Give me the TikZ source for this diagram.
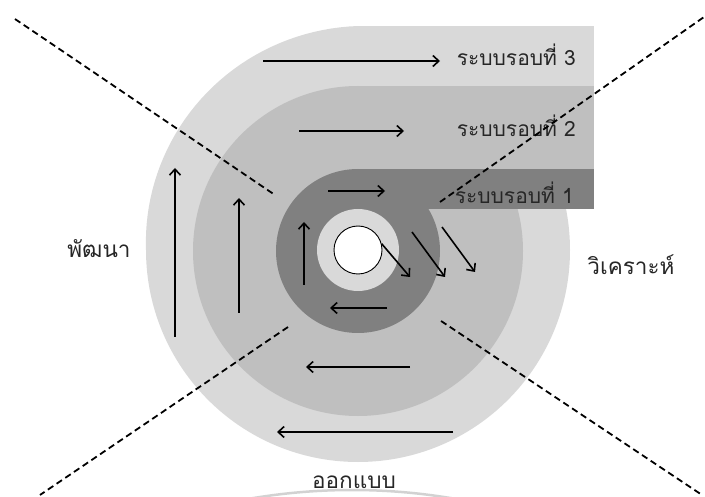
\documentclass[tikz,border=0pt]{standalone}
\usepackage{fontspec}
\newfontfamily\thaifont[Script=Thai]{Loma}
\usepackage{xcolor}
\usepackage{tikz}
\usetikzlibrary{arrows.meta, positioning, calc}

\definecolor{ringout}{HTML}{D9D9D9}
\definecolor{ringmid}{HTML}{BFBFBF}
\definecolor{ringin}{HTML}{808080}
\definecolor{hubring}{HTML}{D9D9D9}

\begin{document}
\begin{tikzpicture}[
  x=1pt, y=-1pt,
  flowarr/.style = {-{Straight Barb[length=6pt,width=11pt]}, line width=1.6pt},
  cutline/.style = {dash pattern=on 6.5pt off 4pt, line width=1.8pt},
  roundlbl/.style= {font=\thaifont\fontsize{21}{24}\selectfont, anchor=east,
                    inner sep=0pt, text=black!85},
  phaselbl/.style= {font=\thaifont\fontsize{22.5}{26}\selectfont, inner sep=0pt,
                    text=black!85},
]
\useasboundingbox (0,0) rectangle (705,497);
\clip (0,0) rectangle (705,497);

%% ── Round 3 (outer spiral + band) ────────────────────────────────
\fill[ringout] (358,250) circle[radius=212pt];
\fill[ringout] (358,250) -- plot[domain=180:90, samples=40]
  ({358+(224-12*(\x-90)/90)*cos(\x)}, {250-(224-12*(\x-90)/90)*sin(\x)})
  -- cycle;
\fill[ringout] (358,26) rectangle (594,86);

%% ── Round 2 ───────────────────────────────────────────────────────
\fill[ringmid] (358,251) circle[radius=165pt];
\fill[ringmid] (358,86) rectangle (594,169);

%% ── Round 1 ───────────────────────────────────────────────────────
\fill[ringin] (358,251) circle[radius=82pt];
\fill[ringin] (358,169) rectangle (594,209);

%% ── Hub ───────────────────────────────────────────────────────────
\fill[hubring] (358,250) circle[radius=41pt];
\node[circle, draw, fill=white, line width=0.9pt, minimum size=48pt,
      inner sep=0pt] (hub) at (358,250) {};

%% ── Bottom arc ────────────────────────────────────────────────────
\draw[gray!35, line width=2.5pt] (352,1090) circle[radius=600pt];

%% ── Flow arrows ───────────────────────────────────────────────────
\draw[flowarr] (263,61) -- (440,61);
\draw[flowarr] (299,131) -- (404,131);
\draw[flowarr] (328,191) -- (385,191);
\draw[flowarr] (175,337) -- (175,168);
\draw[flowarr] (239,313) -- (239,198);
\draw[flowarr] (304,285) -- (304,222);
\draw[flowarr] (387,308) -- (330,308);
\draw[flowarr] (410,367) -- (306,367);
\draw[flowarr] (453,432) -- (277,432);
\draw[flowarr] (hub.15) -- (410,277);
\draw[flowarr] (412,232) -- (445,277);
\draw[flowarr] (442,227) -- (475,272);

%% ── Round labels ─────────────────────────────────────────────────
\node[roundlbl] (rnd3) at (576,55) {ระบบรอบที่ 3};
\node[roundlbl] (rnd2) at (576,126) {ระบบรอบที่ 2};
\node[roundlbl] (rnd1) at (574,193) {ระบบรอบที่ 1};

%% ── Cut lines ─────────────────────────────────────────────────────
\draw[cutline] (15,19) -- (275,195);
\draw[cutline] (288,327) -- (40,495);
\draw[cutline] (440,202) -- (704,17);
\draw[cutline] (441,321) -- (702,495);

%% ── Phase labels ─────────────────────────────────────────────────
\node[phaselbl] (devel) at (99,249) {พัฒนา};
\node[phaselbl] (analy) at (631,265) {วิเคราะห์};
\node[phaselbl] (design) at (354,482) {ออกแบบ};

\end{tikzpicture}
\end{document}
